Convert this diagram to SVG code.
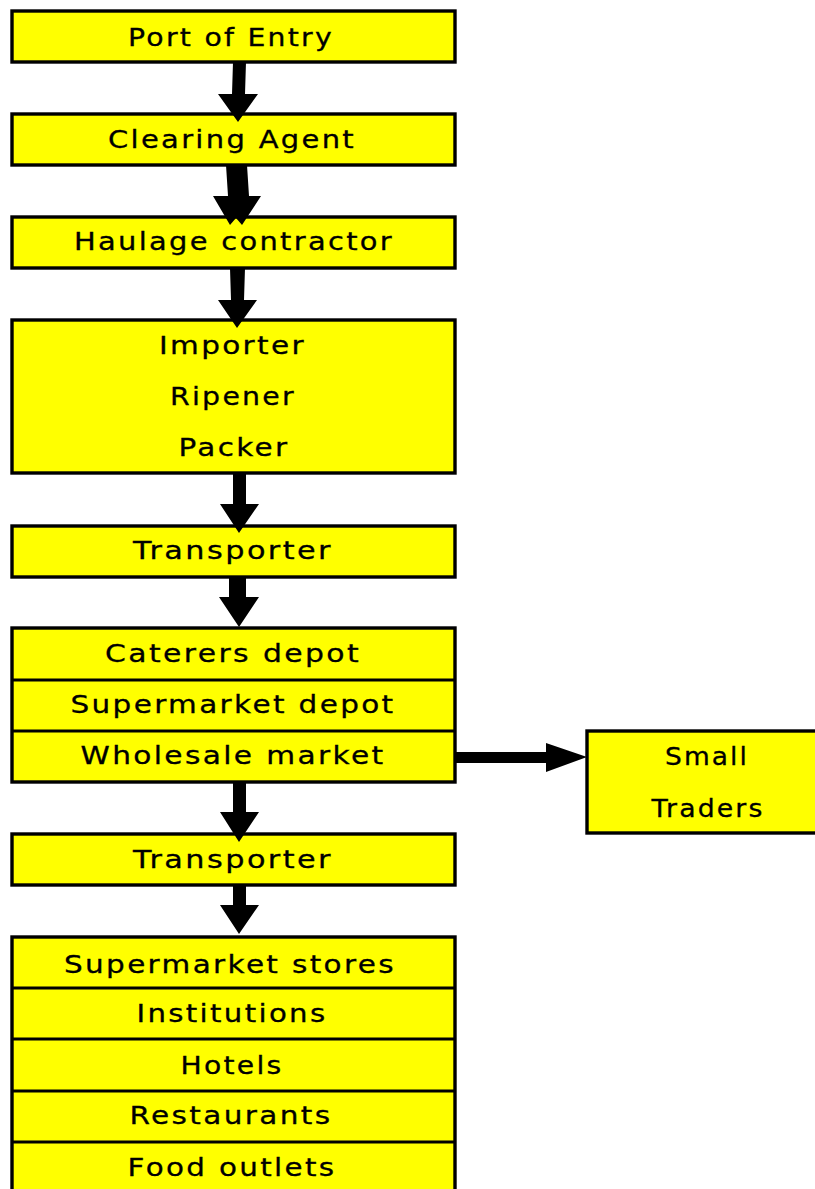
<svg xmlns="http://www.w3.org/2000/svg" width="815" height="1189" viewBox="0 0 815 1189">
  <style>
    .box { fill: #ffff00; stroke: #000; stroke-width: 3.4; }
    .div { stroke: #000; stroke-width: 3; }
    .lbl { font-family: "DejaVu Sans", Verdana, sans-serif; font-size: 25px; letter-spacing: 2px; fill: #000; stroke: #000; stroke-width: 0.3; text-anchor: middle; }
    .arr { fill: #000; }
  </style>
  <rect width="815" height="1189" fill="#fff"/>

  <g id="port">
    <rect class="box" x="12" y="11" width="443" height="51"/>
    <text class="lbl" x="231" y="46" textLength="206" lengthAdjust="spacingAndGlyphs">Port of Entry</text>
  </g>
  <g id="clearing">
    <rect class="box" x="12" y="114" width="443" height="51"/>
    <text class="lbl" x="232" y="148" textLength="248" lengthAdjust="spacingAndGlyphs">Clearing Agent</text>
  </g>
  <g id="haulage">
    <rect class="box" x="12" y="217" width="443" height="51"/>
    <text class="lbl" x="234" y="250" textLength="320" lengthAdjust="spacingAndGlyphs">Haulage contractor</text>
  </g>
  <g id="importer">
    <rect class="box" x="12" y="320" width="443" height="153"/>
    <text class="lbl" x="232.5" y="354" textLength="147" lengthAdjust="spacingAndGlyphs">Importer</text>
    <text class="lbl" x="233" y="405" textLength="126" lengthAdjust="spacingAndGlyphs">Ripener</text>
    <text class="lbl" x="234" y="456" textLength="111" lengthAdjust="spacingAndGlyphs">Packer</text>
  </g>
  <g id="transporter1">
    <rect class="box" x="12" y="526" width="443" height="51"/>
    <text class="lbl" x="233" y="559" textLength="200" lengthAdjust="spacingAndGlyphs">Transporter</text>
  </g>
  <g id="depots">
    <rect class="box" x="12" y="628" width="443" height="154"/>
    <line class="div" x1="12" y1="680" x2="455" y2="680"/>
    <line class="div" x1="12" y1="731" x2="455" y2="731"/>
    <text class="lbl" x="233" y="662" textLength="256" lengthAdjust="spacingAndGlyphs">Caterers depot</text>
    <text class="lbl" x="233" y="713" textLength="325" lengthAdjust="spacingAndGlyphs">Supermarket depot</text>
    <text class="lbl" x="233" y="764" textLength="305" lengthAdjust="spacingAndGlyphs">Wholesale market</text>
  </g>
  <g id="small-traders">
    <rect class="box" x="587" y="731" width="240" height="102"/>
    <text class="lbl" x="707" y="765" textLength="84" lengthAdjust="spacingAndGlyphs">Small</text>
    <text class="lbl" x="708" y="817" textLength="113" lengthAdjust="spacingAndGlyphs">Traders</text>
  </g>
  <g id="transporter2">
    <rect class="box" x="12" y="834" width="443" height="51"/>
    <text class="lbl" x="233" y="868" textLength="200" lengthAdjust="spacingAndGlyphs">Transporter</text>
  </g>
  <g id="outlets">
    <rect class="box" x="12" y="937" width="443" height="270"/>
    <line class="div" x1="12" y1="988" x2="455" y2="988"/>
    <line class="div" x1="12" y1="1039" x2="455" y2="1039"/>
    <line class="div" x1="12" y1="1091" x2="455" y2="1091"/>
    <line class="div" x1="12" y1="1142" x2="455" y2="1142"/>
    <text class="lbl" x="230" y="973" textLength="332" lengthAdjust="spacingAndGlyphs">Supermarket stores</text>
    <text class="lbl" x="232" y="1022" textLength="191" lengthAdjust="spacingAndGlyphs">Institutions</text>
    <text class="lbl" x="232" y="1074" textLength="103" lengthAdjust="spacingAndGlyphs">Hotels</text>
    <text class="lbl" x="231" y="1124" textLength="203" lengthAdjust="spacingAndGlyphs">Restaurants</text>
    <text class="lbl" x="232" y="1176" textLength="209" lengthAdjust="spacingAndGlyphs">Food outlets</text>
  </g>

  <!-- connectors: thick block arrows, tips overlapping the next box -->
  <g id="connectors">
    <polygon class="arr" points="233,62 246,62 245,94 258,94 238,122 218,94 232,94"/>
    <polygon class="arr" points="226,165 247,165 249,196 261,196 242,225 236,218 230,225 213,196 228,196"/>
    <polygon class="arr" points="230,268 245,268 244,300 257,300 237,328 218,300 231,300"/>
    <polygon class="arr" points="233,473 246,473 246,504 259,504 239,533 220,504 233,504"/>
    <polygon class="arr" points="229,577 246,577 246,597 259,597 239,627 219,597 229,597"/>
    <polygon class="arr" points="233,782 246,782 246,812 259,812 239,842 220,812 233,812"/>
    <polygon class="arr" points="233,885 246,885 246,905 259,905 239,934 220,905 233,905"/>
    <polygon class="arr" points="455,752 546,752 546,743 587,757 546,772 546,763 455,763"/>
  </g>
</svg>
